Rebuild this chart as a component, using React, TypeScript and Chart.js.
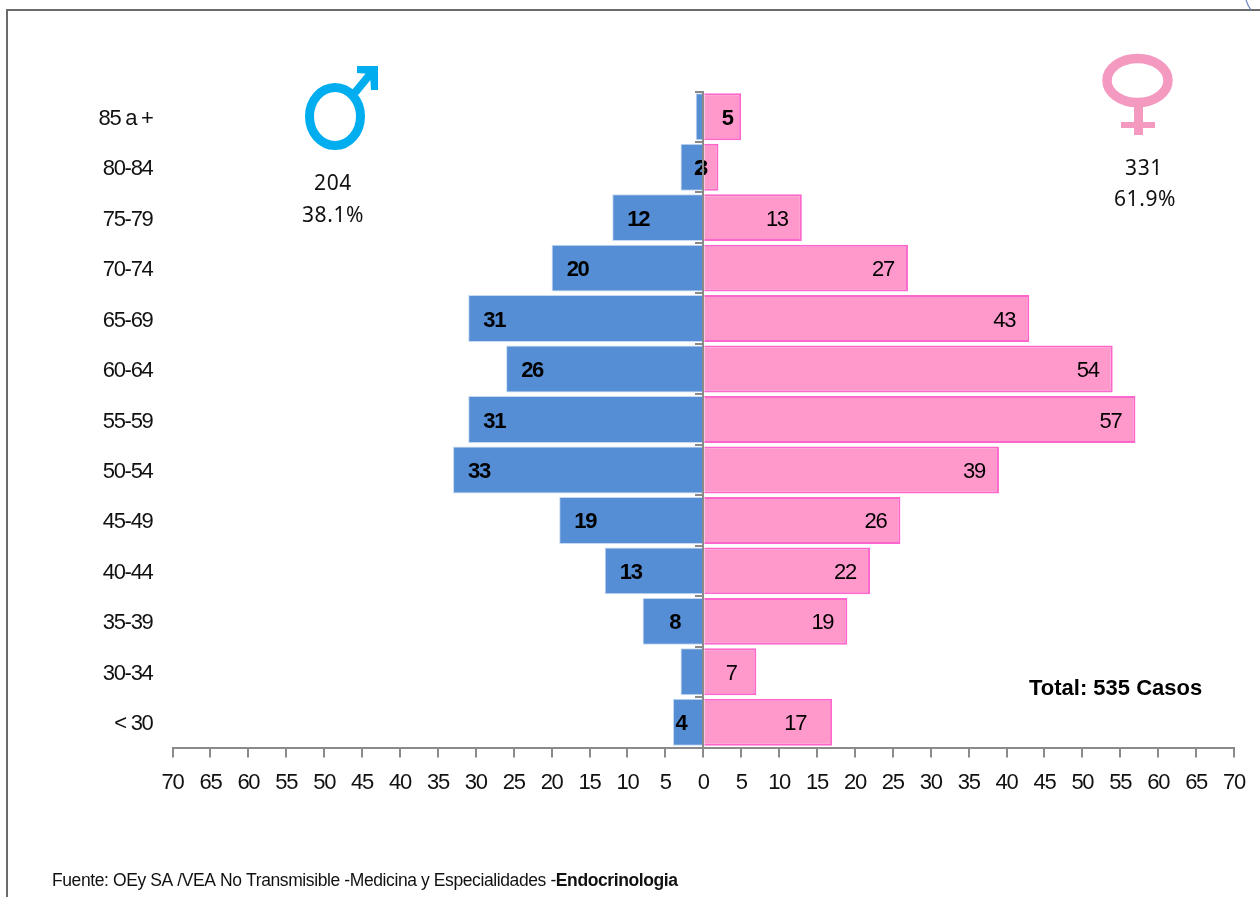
import React, { useEffect, useRef } from "react";
import { Chart, registerables } from "chart.js";

Chart.register(...registerables);

const ageGroups = ["85 a +", "80-84", "75-79", "70-74", "65-69", "60-64", "55-59", "50-54", "45-49", "40-44", "35-39", "30-34", "< 30"];
const maleValues = [1, 3, 12, 20, 31, 26, 31, 33, 19, 13, 8, 3, 4];
const femaleValues = [5, 2, 13, 27, 43, 54, 57, 39, 26, 22, 19, 7, 17];

const SANS = '"Liberation Sans", Arial, sans-serif';
const HUMANIST = '"Noto Sans", "Open Sans", sans-serif';

const hiddenMaleLabels = [0, 11];
const maleLabelInset: Record<number, number> = { 1: 21, 10: 32, 12: 8 };
const femaleLabelInset: Record<number, number> = { 0: 14, 1: 19, 12: 37 };

const decorPlugin = {
  id: "decor",
  beforeDraw(chart: any) {
    const c = chart.ctx;
    (c as any).letterSpacing = "-1.3px";
    c.save();
    c.strokeStyle = "#6b6b6b";
    c.lineWidth = 2;
    c.beginPath();
    c.moveTo(7, 897);
    c.lineTo(7, 10);
    c.lineTo(1260, 10);
    c.stroke();
    c.strokeStyle = "#6f86c4";
    c.lineWidth = 1.2;
    c.beginPath();
    c.moveTo(1246, 0);
    c.quadraticCurveTo(1248, 6, 1251, 10);
    c.stroke();
    c.restore();
  },
  afterDraw(chart: any) {
    const c = chart.ctx;
    c.save();
    // male symbol
    c.strokeStyle = "#00AEEF";
    c.fillStyle = "#00AEEF";
    c.lineWidth = 9;
    c.beginPath();
    c.ellipse(335, 116.5, 25.5, 29, 0, 0, Math.PI * 2);
    c.stroke();
    c.lineWidth = 8;
    c.beginPath();
    c.moveTo(353, 95);
    c.lineTo(372, 72);
    c.stroke();
    c.beginPath();
    c.moveTo(357, 66);
    c.lineTo(378, 66);
    c.lineTo(378, 90);
    c.lineTo(371, 90);
    c.lineTo(370, 74);
    c.lineTo(357, 73);
    c.closePath();
    c.fill();
    // female symbol
    c.strokeStyle = "#F49AC1";
    c.fillStyle = "#F49AC1";
    c.lineWidth = 9.5;
    c.beginPath();
    c.ellipse(1137.5, 80.5, 30.5, 22, 0, 0, Math.PI * 2);
    c.stroke();
    c.fillRect(1134, 106, 9, 29);
    c.fillRect(1121, 122, 34, 6);
    // summary text
    c.fillStyle = "#111";
    c.textAlign = "center";
    c.textBaseline = "middle";
    c.font = `21px ${HUMANIST}`;
    (c as any).letterSpacing = "0.6px";
    c.fillText("204", 333, 184);
    c.fillText("38.1%", 333, 216);
    c.fillText("331", 1144, 169);
    c.fillText("61.9%", 1145, 200);
    (c as any).letterSpacing = "0px";
    c.fillStyle = "#000";
    c.textAlign = "left";
    c.font = `bold 22px ${SANS}`;
    c.fillText("Total: 535 Casos", 1029, 689);
    // source
    (c as any).letterSpacing = "-0.4px";
    c.font = `17.5px ${SANS}`;
    const src = "Fuente: OEy SA /VEA No Transmisible -Medicina y Especialidades -";
    c.fillStyle = "#111";
    c.fillText(src, 52, 881);
    const w = c.measureText(src).width;
    c.font = `bold 17.5px ${SANS}`;
    c.fillText("Endocrinologia", 52 + w, 881);
    c.restore();
  },
};

const labelPlugin = {
  id: "barLabels",
  afterDatasetsDraw(chart: any) {
    const c = chart.ctx;
    const xs = chart.scales.x;
    const ys = chart.scales.y;
    c.save();
    c.fillStyle = "#000";
    c.textAlign = "center";
    c.textBaseline = "middle";
    c.font = `bold 22px ${SANS}`;
    maleValues.forEach((v, i) => {
      if (hiddenMaleLabels.includes(i)) return;
      const inset = maleLabelInset[i] ?? 26;
      c.fillText(String(v), xs.getPixelForValue(-v) + inset, ys.getPixelForValue(i) + 2);
    });
    femaleValues.forEach((v, i) => {
      const inset = femaleLabelInset[i] ?? 25;
      c.font = i < 2 ? `bold 22px ${SANS}` : `22px ${SANS}`;
      c.fillText(String(v), xs.getPixelForValue(v) - inset, ys.getPixelForValue(i) + 2);
    });
    c.restore();
  },
};

export default function App() {
  const ref = useRef<HTMLCanvasElement | null>(null);
  useEffect(() => {
    document.body.style.margin = "0";
    const chart = new Chart(ref.current!, {
      type: "bar",
      data: {
        labels: ageGroups,
        datasets: [
          {
            label: "Hombres",
            data: maleValues.map((v) => -v),
            backgroundColor: "#558ED5",
            borderColor: "#C6D9F1",
            borderWidth: 1,
            barPercentage: 0.93,
            categoryPercentage: 1,
          },
          {
            label: "Mujeres",
            data: femaleValues,
            backgroundColor: "#FF99CC",
            borderColor: "#FF66CC",
            borderWidth: 2,
            barPercentage: 0.93,
            categoryPercentage: 1,
          },
        ],
      },
      options: {
        indexAxis: "y",
        responsive: false,
        animation: false,
        layout: { padding: { top: 91.5, right: 26, left: 0, bottom: 0 } },
        plugins: { legend: { display: false }, title: { display: false }, tooltip: { enabled: false } },
        scales: {
          x: {
            type: "linear",
            min: -70,
            max: 70,
            stacked: true,
            afterFit: (s: any) => { s.height = 149.5; },
            grid: { drawOnChartArea: false, drawTicks: true, tickLength: 10, color: "#8a8a8a", lineWidth: 2 },
            border: { color: "#8a8a8a", width: 2, z: 1 },
            ticks: {
              stepSize: 5,
              autoSkip: false,
              maxRotation: 0,
              padding: 12,
              color: "#111",
              font: { family: SANS, size: 22 },
              callback: (v: any) => String(Math.abs(Number(v))),
            },
          },
          y: {
            type: "category",
            stacked: true,
            offset: true,
            afterFit: (s: any) => { s.width = 172.5; },
            grid: { display: false },
            border: { display: false },
            ticks: { padding: 12, labelOffset: 2, color: "#111", font: { family: SANS, size: 22 }, autoSkip: false },
          },
          yCenter: {
            type: "category",
            axis: "y",
            position: { x: 0 },
            offset: true,
            grid: { drawOnChartArea: false, drawTicks: true, tickLength: 7, color: "#8a8a8a", lineWidth: 2, offset: true, z: 1 },
            border: { color: "#8a8a8a", width: 2, z: 1 },
            ticks: { display: false },
          },
        } as any,
      },
      plugins: [decorPlugin, labelPlugin],
    } as any);
    return () => chart.destroy();
  }, []);
  return <canvas ref={ref} width={1260} height={897} style={{ display: "block", position: "absolute", left: 0, top: 0 }} />;
}
